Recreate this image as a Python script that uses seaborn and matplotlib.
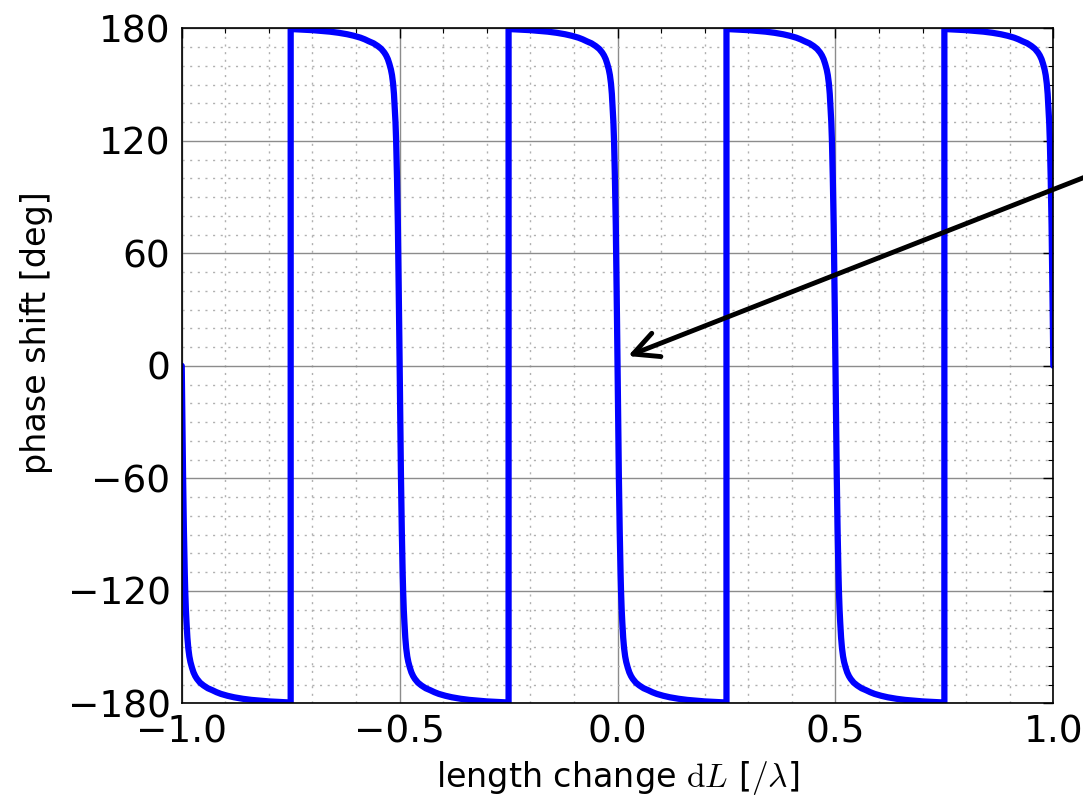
import matplotlib
matplotlib.use("Agg")
import matplotlib.pyplot as plt
import matplotlib.ticker as mticker
import pandas as pd
import seaborn as sns

# curve: length change dL [/lambda] vs phase shift [deg]
# one row per half period; the vertical jumps at +-0.25, +-0.75 are the phase wraps
dl_values = [
    -1.0, -0.999, -0.998, -0.997, -0.996, -0.995, -0.994, -0.993, -0.992, -0.9905, -0.989,
    -0.987, -0.985, -0.9825, -0.98, -0.9765, -0.973, -0.969, -0.965, -0.958, -0.95, -0.94,
    -0.93, -0.92, -0.91, -0.895, -0.88, -0.86, -0.84, -0.82, -0.8, -0.775, -0.75,

    -0.75, -0.725, -0.7, -0.68, -0.66, -0.64, -0.62, -0.605, -0.59, -0.58, -0.57, -0.56,
    -0.55, -0.542, -0.535, -0.531, -0.527, -0.5235, -0.52, -0.5175, -0.515, -0.513, -0.511,
    -0.5095, -0.508, -0.507, -0.506, -0.505, -0.504, -0.503, -0.502, -0.501,

    -0.5, -0.499, -0.498, -0.497, -0.496, -0.495, -0.494, -0.493, -0.492, -0.4905, -0.489,
    -0.487, -0.485, -0.4825, -0.48, -0.4765, -0.473, -0.469, -0.465, -0.458, -0.45, -0.44,
    -0.43, -0.42, -0.41, -0.395, -0.38, -0.36, -0.34, -0.32, -0.3, -0.275, -0.25,

    -0.25, -0.225, -0.2, -0.18, -0.16, -0.14, -0.12, -0.105, -0.09, -0.08, -0.07, -0.06,
    -0.05, -0.042, -0.035, -0.031, -0.027, -0.0235, -0.02, -0.0175, -0.015, -0.013, -0.011,
    -0.0095, -0.008, -0.007, -0.006, -0.005, -0.004, -0.003, -0.002, -0.001,

    0.0, 0.001, 0.002, 0.003, 0.004, 0.005, 0.006, 0.007, 0.008, 0.0095, 0.011,
    0.013, 0.015, 0.0175, 0.02, 0.0235, 0.027, 0.031, 0.035, 0.042, 0.05, 0.06,
    0.07, 0.08, 0.09, 0.105, 0.12, 0.14, 0.16, 0.18, 0.2, 0.225, 0.25,

    0.25, 0.275, 0.3, 0.32, 0.34, 0.36, 0.38, 0.395, 0.41, 0.42, 0.43, 0.44,
    0.45, 0.458, 0.465, 0.469, 0.473, 0.4765, 0.48, 0.4825, 0.485, 0.487, 0.489,
    0.4905, 0.492, 0.493, 0.494, 0.495, 0.496, 0.497, 0.498, 0.499,

    0.5, 0.501, 0.502, 0.503, 0.504, 0.505, 0.506, 0.507, 0.508, 0.5095, 0.511,
    0.513, 0.515, 0.5175, 0.52, 0.5235, 0.527, 0.531, 0.535, 0.542, 0.55, 0.56,
    0.57, 0.58, 0.59, 0.605, 0.62, 0.64, 0.66, 0.68, 0.7, 0.725, 0.75,

    0.75, 0.775, 0.8, 0.82, 0.84, 0.86, 0.88, 0.895, 0.91, 0.92, 0.93, 0.94,
    0.95, 0.958, 0.965, 0.969, 0.973, 0.9765, 0.98, 0.9825, 0.985, 0.987, 0.989,
    0.9905, 0.992, 0.993, 0.994, 0.995, 0.996, 0.997, 0.998, 0.999, 1.0,
]
phase_values = [
    0, -21, -40, -58, -75, -88, -100, -111, -120, -130, -137,
    -145, -150.5, -155, -158, -161, -163.5, -165.5, -167, -169, -170.5, -172,
    -173, -174.1, -175, -176, -176.8, -177.6, -178.2, -178.6, -179, -179.3, -179.6,

    179.6, 179.3, 179, 178.6, 178.2, 177.6, 176.8, 176, 175, 174.1, 173, 172,
    170.5, 169, 167, 165.5, 163.5, 161, 158, 155, 150.5, 145, 137,
    130, 120, 111, 100, 88, 75, 58, 40, 21,

    0, -21, -40, -58, -75, -88, -100, -111, -120, -130, -137,
    -145, -150.5, -155, -158, -161, -163.5, -165.5, -167, -169, -170.5, -172,
    -173, -174.1, -175, -176, -176.8, -177.6, -178.2, -178.6, -179, -179.3, -179.6,

    179.6, 179.3, 179, 178.6, 178.2, 177.6, 176.8, 176, 175, 174.1, 173, 172,
    170.5, 169, 167, 165.5, 163.5, 161, 158, 155, 150.5, 145, 137,
    130, 120, 111, 100, 88, 75, 58, 40, 21,

    0, -21, -40, -58, -75, -88, -100, -111, -120, -130, -137,
    -145, -150.5, -155, -158, -161, -163.5, -165.5, -167, -169, -170.5, -172,
    -173, -174.1, -175, -176, -176.8, -177.6, -178.2, -178.6, -179, -179.3, -179.6,

    179.6, 179.3, 179, 178.6, 178.2, 177.6, 176.8, 176, 175, 174.1, 173, 172,
    170.5, 169, 167, 165.5, 163.5, 161, 158, 155, 150.5, 145, 137,
    130, 120, 111, 100, 88, 75, 58, 40, 21,

    0, -21, -40, -58, -75, -88, -100, -111, -120, -130, -137,
    -145, -150.5, -155, -158, -161, -163.5, -165.5, -167, -169, -170.5, -172,
    -173, -174.1, -175, -176, -176.8, -177.6, -178.2, -178.6, -179, -179.3, -179.6,

    179.6, 179.3, 179, 178.6, 178.2, 177.6, 176.8, 176, 175, 174.1, 173, 172,
    170.5, 169, 167, 165.5, 163.5, 161, 158, 155, 150.5, 145, 137,
    130, 120, 111, 100, 88, 75, 58, 40, 21, 0,
]

x_ticks = [-1.0, -0.5, 0.0, 0.5, 1.0]
y_ticks = [-180, -120, -60, 0, 60, 120, 180]

# arrow pointing at the crossing near dL = 0 (tail runs off the right edge)
arrow_tip = (0.024, 5.2)
arrow_tail = (1.16, 108.6)

df = pd.DataFrame({"dL": dl_values, "phase": phase_values})

sns.set_style("white")
plt.rcParams["font.family"] = ["DejaVu Sans"]
plt.rcParams["mathtext.fontset"] = "cm"
plt.rcParams["xtick.direction"] = "in"
plt.rcParams["ytick.direction"] = "in"
plt.rcParams["text.color"] = "black"
plt.rcParams["axes.labelcolor"] = "black"

fig = plt.figure(figsize=(10.83, 8.01), dpi=100)
ax = fig.add_axes([0.1678, 0.1220, 0.8048, 0.8427])

sns.lineplot(data=df, x="dL", y="phase", sort=False, estimator=None,
             color="#0000ff", lw=4.5, ax=ax)

ax.set_xlim(-1.0, 1.0)
ax.set_ylim(-180, 180)
ax.set_xticks(x_ticks)
ax.set_yticks(y_ticks)
ax.xaxis.set_major_formatter(mticker.FuncFormatter(lambda v, pos: f"{v:.1f}".replace("-", "\u2212")))
ax.yaxis.set_major_formatter(mticker.FuncFormatter(lambda v, pos: f"{v:.0f}".replace("-", "\u2212")))
ax.xaxis.set_minor_locator(mticker.MultipleLocator(0.1))
ax.yaxis.set_minor_locator(mticker.MultipleLocator(10))

ax.grid(which="major", color="#8c8c8c", linestyle="-", lw=1.0)
ax.grid(which="minor", color="#b0b0b0", linestyle=(0, (1.5, 4)), lw=1.0)
ax.set_axisbelow(True)

ax.tick_params(which="both", top=True, right=True, colors="black")
ax.tick_params(which="major", length=7, width=1, labelsize=27, pad=8)
ax.tick_params(which="minor", length=3.5, width=0.8)
for sp in ax.spines.values():
    sp.set_color("black")
    sp.set_linewidth(1.2)

ax.set_xlabel(r"length change $\mathrm{d}L$ [$/\lambda$]", fontsize=24, labelpad=6)
ax.set_ylabel("phase shift [deg]", fontsize=24)
ax.yaxis.set_label_coords(-0.148, 0.549)

ax.annotate("", xy=arrow_tip, xytext=arrow_tail, annotation_clip=False,
            arrowprops=dict(arrowstyle="->", lw=3.5, color="black",
                            mutation_scale=45, shrinkA=0, shrinkB=0))

fig.savefig("out.png", dpi=100)
